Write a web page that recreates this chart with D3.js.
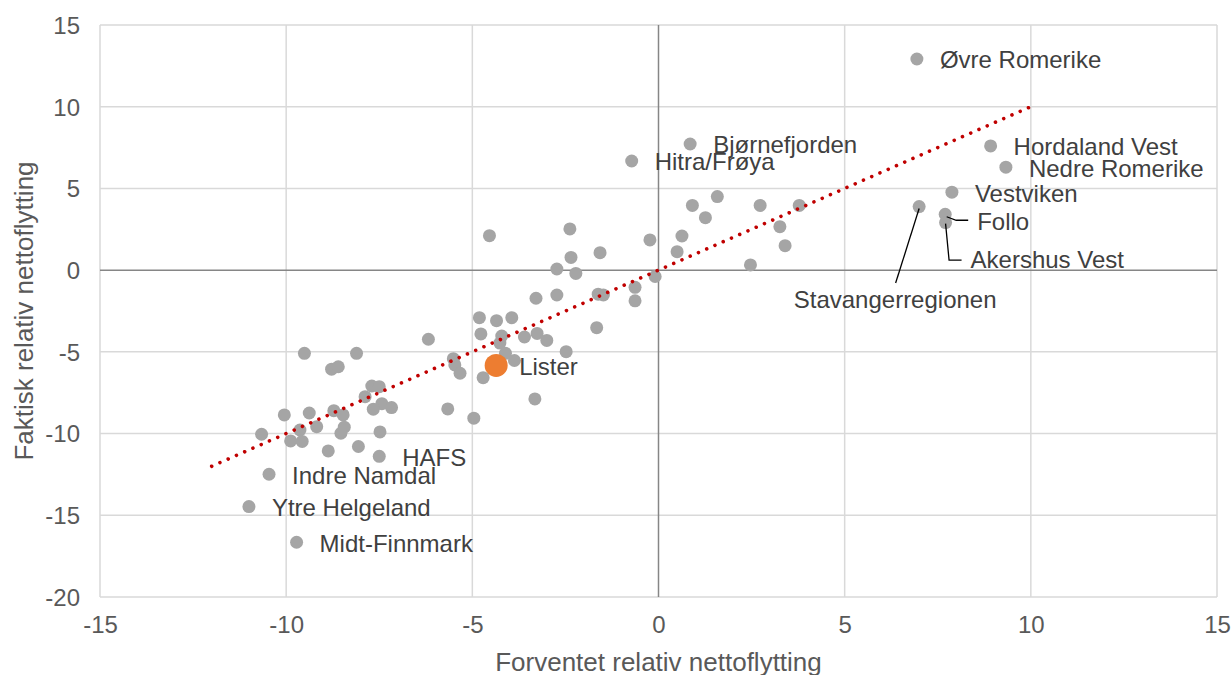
<!DOCTYPE html>
<html>
<head>
<meta charset="utf-8">
<script src="https://cdn.jsdelivr.net/npm/d3@7"></script>
<style>
  html, body { margin: 0; padding: 0; background: #ffffff; }
  svg { display: block; font-family: "Liberation Sans", Arial, sans-serif; }
</style>
</head>
<body>
<svg id="chart" width="1232" height="675"></svg>
<script>
// ---- data ----
const xTicks = [-15, -10, -5, 0, 5, 10, 15];
const yTicks = [-20, -15, -10, -5, 0, 5, 10, 15];
const xTitle = "Forventet relativ nettoflytting";
const yTitle = "Faktisk relativ nettoflytting";

const regionX = [6.94, 0.85, -0.72, 8.92, 9.33, 7.88, 1.58, 0.91, 2.73, 3.78,
  7.00, 7.70, 7.71, 1.26, -2.38, 3.26, -4.54, 0.63, -0.23, 3.40,
  -1.57, -2.35, 0.50, 2.47, -2.73, -2.22, -0.09, -0.63, -1.62, -1.48,
  -2.73, -3.29, -0.63, -4.81, -4.35, -3.94, -1.66, -6.18, -4.77, -4.21,
  -3.60, -3.26, -3.00, -4.26, -2.48, -9.51, -8.11, -4.11, -5.51, -5.47,
  -3.87, -8.78, -8.60, -5.33, -4.71, -7.70, -7.50, -7.88, -3.32, -7.43,
  -7.17, -7.66, -5.66, -8.72, -9.38, -10.05, -8.47, -4.96, -9.18, -8.44,
  -9.63, -8.53, -7.48, -10.66, -9.88, -9.57, -8.06, -8.87, -7.50, -10.46,
  -11.00, -9.72];
const regionY = [12.92, 7.72, 6.68, 7.60, 6.30, 4.77, 4.50, 3.96, 3.96, 3.96,
  3.89, 3.42, 2.91, 3.21, 2.52, 2.66, 2.11, 2.09, 1.85, 1.50,
  1.07, 0.78, 1.13, 0.32, 0.07, -0.20, -0.39, -1.05, -1.47, -1.52,
  -1.52, -1.72, -1.88, -2.91, -3.09, -2.91, -3.52, -4.23, -3.90, -4.03,
  -4.09, -3.87, -4.30, -4.46, -4.99, -5.09, -5.09, -5.09, -5.42, -5.80,
  -5.53, -6.06, -5.91, -6.31, -6.58, -7.09, -7.13, -7.74, -7.88, -8.17,
  -8.41, -8.51, -8.49, -8.60, -8.74, -8.86, -8.86, -9.06, -9.58, -9.61,
  -9.78, -9.98, -9.90, -10.04, -10.45, -10.48, -10.79, -11.06, -11.39, -12.49,
  -14.47, -16.65];
const regionName = ["Øvre Romerike", "Bjørnefjorden", "Hitra/Frøya", "Hordaland Vest", "Nedre Romerike", "Vestviken", "", "", "", "",
  "Stavangerregionen", "Follo", "Akershus Vest", "", "", "", "", "", "", "",
  "", "", "", "", "", "", "", "", "", "",
  "", "", "", "", "", "", "", "", "", "",
  "", "", "", "", "", "", "", "", "", "",
  "", "", "", "", "", "", "", "", "", "",
  "", "", "", "", "", "", "", "", "", "",
  "", "", "", "", "", "", "", "", "HAFS", "Indre Namdal",
  "Ytre Helgeland", "Midt-Finnmark"];

const highlightX = [-4.36];
const highlightY = [-5.83];
const highlightName = ["Lister"];

const trendX = [-12, 10];
const trendY = [-12, 10];

// ---- layout / style ----
const W = 1232, H = 675;
const plot = { left: 100, right: 1217, top: 25, bottom: 597 };
const labelDx = 23;
// label placement overrides (pixel offsets from the point), with leader lines
const labelStyle = {
  "Follo": { dx: 32, dy: 7, anchor: "start", leader: [[1.5, 2.5], [11, 6], [23, 6]] },
  "Akershus Vest": { dx: 25, dy: 37.5, anchor: "start", leader: [[0, 1], [3.5, 37.5], [16, 37.5]] },
  "Stavangerregionen": { dx: -24, dy: 93, anchor: "middle", leader: [[0, 2], [-23.5, 76.5]] }
};

const svg = d3.select("#chart");
const x = d3.scaleLinear().domain([-15, 15]).range([plot.left, plot.right]);
const y = d3.scaleLinear().domain([-20, 15]).range([plot.bottom, plot.top]);

// gridlines
const grid = svg.append("g");
grid.selectAll("line.vx").data(xTicks).join("line")
  .attr("x1", d => x(d)).attr("x2", d => x(d))
  .attr("y1", plot.top).attr("y2", plot.bottom)
  .attr("stroke", d => d === 0 ? "#868686" : "#d9d9d9")
  .attr("stroke-width", 1.5);
grid.selectAll("line.hy").data(yTicks).join("line")
  .attr("y1", d => y(d)).attr("y2", d => y(d))
  .attr("x1", plot.left).attr("x2", plot.right)
  .attr("stroke", d => d === 0 ? "#868686" : "#d9d9d9")
  .attr("stroke-width", 1.5);
grid.selectAll("line").filter(d => d === 0).raise();

// axes (text only)
const xAxis = d3.axisBottom(x).tickValues(xTicks).tickSize(0).tickPadding(0);
const gx = svg.append("g").attr("transform", `translate(0,${plot.bottom})`).call(xAxis);
gx.select(".domain").remove();
gx.selectAll("text").attr("y", 36).attr("dy", null)
  .attr("font-size", 24).attr("fill", "#595959")
  .attr("font-family", "Liberation Sans, Arial, sans-serif")
  .text(d => d < 0 ? "-" + Math.abs(d) : String(d));

const yAxis = d3.axisLeft(y).tickValues(yTicks).tickSize(0).tickPadding(0);
const gy = svg.append("g").attr("transform", `translate(${plot.left},0)`).call(yAxis);
gy.select(".domain").remove();
gy.selectAll("text").attr("x", -20).attr("dy", "0.35em")
  .attr("font-size", 24).attr("fill", "#595959")
  .attr("font-family", "Liberation Sans, Arial, sans-serif")
  .text(d => d < 0 ? "-" + Math.abs(d) : String(d));

// axis titles
svg.append("text")
  .attr("x", (plot.left + plot.right) / 2).attr("y", 671)
  .attr("text-anchor", "middle").attr("font-size", 26).attr("fill", "#595959")
  .text(xTitle);
svg.append("text")
  .attr("transform", `translate(33,${(plot.top + plot.bottom) / 2}) rotate(-90)`)
  .attr("text-anchor", "middle").attr("font-size", 26).attr("fill", "#595959")
  .text(yTitle);

// points
const pts = regionX.map((v, i) => ({ x: v, y: regionY[i], name: regionName[i] }));
svg.append("g").selectAll("circle").data(pts).join("circle")
  .attr("cx", d => x(d.x)).attr("cy", d => y(d.y)).attr("r", 6.5)
  .attr("fill", "#a5a5a5");

// trend line
const trend = trendX.map((v, i) => ({ x: v, y: trendY[i] }));
svg.append("path").datum(trend)
  .attr("d", d3.line().x(d => x(d.x)).y(d => y(d.y)))
  .attr("fill", "none").attr("stroke", "#c00000")
  .attr("stroke-width", 3.6).attr("stroke-linecap", "round")
  .attr("stroke-dasharray", "0.01,9");

// highlight
const hl = highlightX.map((v, i) => ({ x: v, y: highlightY[i], name: highlightName[i] }));
svg.append("g").selectAll("circle").data(hl).join("circle")
  .attr("cx", d => x(d.x)).attr("cy", d => y(d.y)).attr("r", 11.5)
  .attr("fill", "#ed7d31");

// labels
const labelled = pts.filter(d => d.name).concat(hl);
const lg = svg.append("g");
labelled.forEach(d => {
  const px = x(d.x), py = y(d.y);
  const s = labelStyle[d.name];
  if (s) {
    lg.append("path")
      .attr("d", d3.line()(s.leader.map(p => [px + p[0], py + p[1]])))
      .attr("fill", "none").attr("stroke", "#000").attr("stroke-width", 1.3);
    lg.append("text").attr("x", px + s.dx).attr("y", py + s.dy).attr("dy", "0.35em")
      .attr("text-anchor", s.anchor).attr("font-size", 24).attr("fill", "#404040")
      .text(d.name);
  } else {
    lg.append("text").attr("x", px + labelDx).attr("y", py + 1).attr("dy", "0.35em")
      .attr("font-size", 24).attr("fill", "#404040")
      .text(d.name);
  }
});
</script>
</body>
</html>
